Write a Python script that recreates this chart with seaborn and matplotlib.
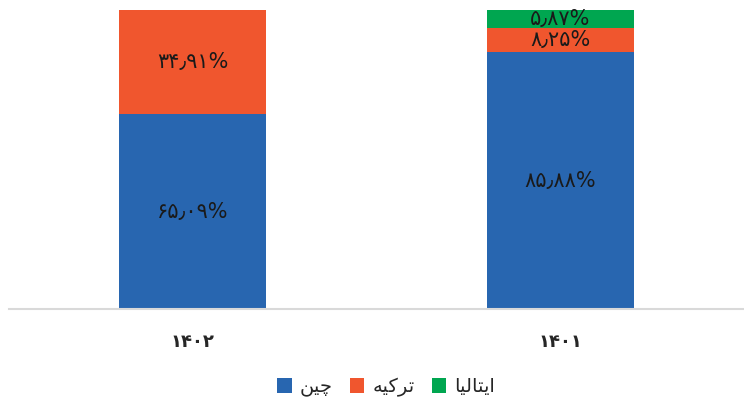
import matplotlib

matplotlib.use("Agg")

import matplotlib.pyplot as plt
import seaborn as sns

# سال‌ها (چپ به راست همان‌طور که در نمودار دیده می‌شود)
years = ["۱۴۰۲", "۱۴۰۱"]
china = [65.09, 85.88]
turkey = [34.91, 8.25]
italy = [0.0, 5.87]

# matplotlib shaping/bidi nadarad: nam-ha be shekl-e namayeshi va tartib-e chap-be-rast
name_china = "\uFEE6\uFBFF\uFB7C"                               # چین
name_turkey = "\uFEEA\uFBFF\uFB90\uFEAE\uFE97"                  # ترکیه
name_italy = "\uFE8E\uFBFF\uFEDF\uFE8E\uFE98\uFBFE\uFE8D"       # ایتالیا

c_china = "#2866B0"
c_turkey = "#F0562E"
c_italy = "#00A650"

PERSIAN = str.maketrans("0123456789.", "۰۱۲۳۴۵۶۷۸۹٫")


def fa_pct(v):
    return f"{v:.2f}".translate(PERSIAN) + "%"


sns.set_style("white")
plt.rcParams["font.family"] = ["DejaVu Sans"]

fig = plt.figure(figsize=(7.44, 4.04), dpi=100)
ax = fig.add_axes([9 / 744, 1 - 309 / 404, 735 / 744, 299 / 404])

# stacked: draw cumulative totals from the top down
top = [c + t + i for c, t, i in zip(china, turkey, italy)]
mid = [c + t for c, t in zip(china, turkey)]
sns.barplot(x=years, y=top, order=years, color=c_italy, saturation=1,
            width=0.4, errorbar=None, label=name_italy, linewidth=0, ax=ax)
sns.barplot(x=years, y=mid, order=years, color=c_turkey, saturation=1,
            width=0.4, errorbar=None, label=name_turkey, linewidth=0, ax=ax)
sns.barplot(x=years, y=china, order=years, color=c_china, saturation=1,
            width=0.4, errorbar=None, label=name_china, linewidth=0, ax=ax)

for k in range(len(years)):
    bottom = 0
    for val in (china[k], turkey[k], italy[k]):
        if val > 0:
            ax.text(k, bottom + val / 2, fa_pct(val), ha="center", va="center",
                    fontsize=15, color="#1a1a1a")
        bottom += val

ax.set_ylim(0, 100)
ax.set_xlim(-0.5, 1.5)
ax.set_yticks([])
ax.set_xlabel("")
ax.set_ylabel("")
for s in ("left", "right", "top"):
    ax.spines[s].set_visible(False)
ax.spines["bottom"].set_color("#D9D9D9")
ax.spines["bottom"].set_linewidth(1.5)
ax.tick_params(axis="x", length=0, pad=17, labelsize=13)
for lbl in ax.get_xticklabels():
    lbl.set_fontweight("bold")

if ax.get_legend():
    ax.get_legend().remove()
handles = [ax.containers[2], ax.containers[1], ax.containers[0]]
fig.legend(handles, [name_china, name_turkey, name_italy], loc="center",
           bbox_to_anchor=(386 / 744, 17 / 404), ncol=3, frameon=False,
           markerfirst=True, fontsize=14, handlelength=0.75, handleheight=0.75,
           handletextpad=0.4, columnspacing=0.9)

fig.savefig("out.png", dpi=100)
plt.close(fig)
